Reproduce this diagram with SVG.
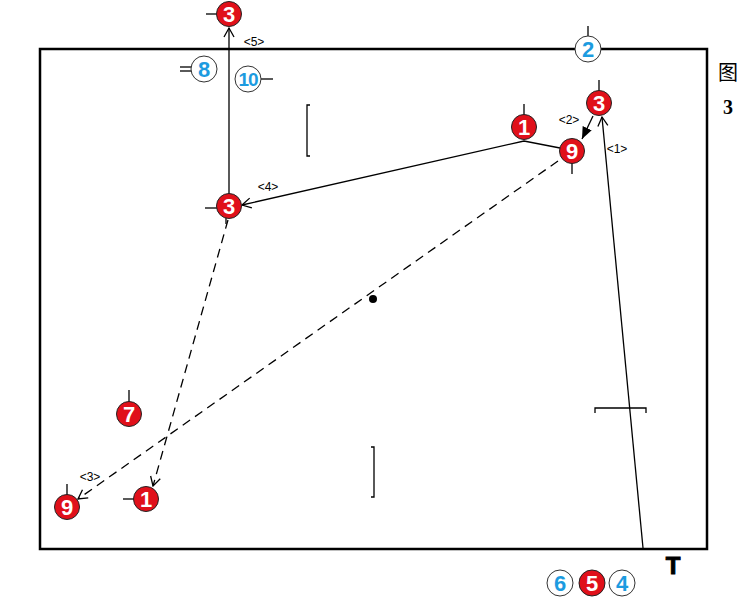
<svg xmlns="http://www.w3.org/2000/svg" width="746" height="600" viewBox="0 0 746 600">
<style>
.ln{stroke:#000;stroke-width:1.3;fill:none}
.dash{stroke-dasharray:9,6}
.red circle{fill:#e0101a;stroke:#222;stroke-width:1}
.red text{fill:#fff;font-family:"Liberation Sans",Arial,sans-serif;font-weight:bold;font-size:22px;text-anchor:middle}
.blue circle{fill:#fff;stroke:#333;stroke-width:1}
.blue text{fill:#1c9be0;font-family:"Liberation Sans",Arial,sans-serif;font-weight:bold;font-size:22px;text-anchor:middle}
.tk{stroke:#000;stroke-width:1.3}
.lbl{font-family:"Liberation Sans",Arial,sans-serif;font-size:12px;text-anchor:middle;fill:#000}
</style>
<defs>
<marker id="open" markerWidth="12" markerHeight="12" refX="10" refY="6" orient="auto" markerUnits="userSpaceOnUse">
<path d="M1,1 L10,6 L1,11" fill="none" stroke="#000" stroke-width="1.3"/>
</marker>
<marker id="fill" markerWidth="14" markerHeight="12" refX="12" refY="6" orient="auto" markerUnits="userSpaceOnUse">
<path d="M0,1 L12,6 L0,11 Z" fill="#000"/>
</marker>
</defs>
<rect x="40" y="49" width="667" height="500" fill="#fff" stroke="#000" stroke-width="2.5"/>
<g id="markings">
<path class="ln" d="M310,105 L307,105 L307,156 L310,156"/>
<path class="ln" d="M371,447 L374,447 L374,497 L371,497"/>
<path class="ln" d="M595,413 L595,408 L646,408 L646,413"/>
<circle cx="373" cy="299" r="4" fill="#000"/>
<text x="673" y="574" font-family="'Liberation Sans',Arial,sans-serif" font-weight="900" font-size="24" text-anchor="middle" stroke="#000" stroke-width="1">T</text>
<text x="728" y="80" font-family="'Liberation Serif','Noto Sans CJK SC',serif" font-size="20" text-anchor="middle">图</text>
<text x="728" y="114" font-family="'Liberation Serif',serif" font-weight="bold" font-size="20" text-anchor="middle">3</text>
</g>
<g id="connectors">
<line class="ln" x1="229" y1="194" x2="229" y2="28" marker-end="url(#open)"/>
<polyline class="ln" points="560,148 524,141 242,205" marker-end="url(#open)"/>
<line class="ln" x1="593" y1="116" x2="582" y2="139" marker-end="url(#fill)"/>
<line class="ln" x1="643" y1="548" x2="602" y2="117" marker-end="url(#open)"/>
<line class="ln dash" x1="228" y1="220" x2="153" y2="486" marker-end="url(#open)"/>
<line class="ln dash" x1="558" y1="161" x2="78" y2="499" marker-end="url(#open)"/>
<text class="lbl" x="254" y="46">&lt;5&gt;</text>
<text class="lbl" x="268" y="191">&lt;4&gt;</text>
<text class="lbl" x="569" y="124">&lt;2&gt;</text>
<text class="lbl" x="617" y="153">&lt;1&gt;</text>
<text class="lbl" x="90" y="481">&lt;3&gt;</text>
</g>
<g id="r3top" class="red"><line class="tk" x1="206" y1="14" x2="217" y2="14"/><circle cx="229" cy="14" r="12.5"/><text x="229" y="22">3</text></g>
<g id="b8" class="blue"><line class="tk" x1="180" y1="67" x2="191" y2="67"/><line class="tk" x1="180" y1="71" x2="191" y2="71"/><circle cx="204" cy="69" r="13"/><text x="204" y="77">8</text></g>
<g id="b10" class="blue"><line class="tk" x1="261" y1="79" x2="273" y2="79"/><circle cx="248" cy="79" r="13"/><text x="248" y="86" style="font-size:19px;letter-spacing:-1px">10</text></g>
<g id="b2" class="blue"><line class="tk" x1="588" y1="26" x2="588" y2="36"/><circle cx="588" cy="49" r="13"/><text x="588" y="57">2</text></g>
<g id="r3right" class="red"><line class="tk" x1="599" y1="80" x2="599" y2="91"/><circle cx="599" cy="103" r="12.5"/><text x="599" y="111">3</text></g>
<g id="r1top" class="red"><line class="tk" x1="524" y1="104" x2="524" y2="115"/><circle cx="524" cy="127" r="12.5"/><text x="524" y="135">1</text></g>
<g id="r9top" class="red"><line class="tk" x1="572" y1="163" x2="572" y2="174"/><circle cx="572" cy="151" r="12.5"/><text x="572" y="159">9</text></g>
<g id="r3mid" class="red"><line class="tk" x1="205" y1="208" x2="217" y2="208"/><line class="tk" x1="226" y1="218" x2="226" y2="224"/><circle cx="229" cy="206" r="12.5"/><text x="229" y="214">3</text></g>
<g id="r7" class="red"><line class="tk" x1="129" y1="390" x2="129" y2="402"/><circle cx="129" cy="414" r="12.5"/><text x="129" y="422">7</text></g>
<g id="r9bot" class="red"><line class="tk" x1="67" y1="484" x2="67" y2="495"/><circle cx="67" cy="507" r="12.5"/><text x="67" y="515">9</text></g>
<g id="r1bot" class="red"><line class="tk" x1="123" y1="499" x2="134" y2="499"/><circle cx="146" cy="499" r="12.5"/><text x="146" y="507">1</text></g>
<g id="b6" class="blue"><circle cx="560" cy="583" r="13"/><text x="560" y="591">6</text></g>
<g id="r5" class="red"><circle cx="592" cy="583" r="13"/><text x="592" y="591">5</text></g>
<g id="b4" class="blue"><circle cx="622" cy="583" r="13"/><text x="622" y="591">4</text></g>
</svg>
